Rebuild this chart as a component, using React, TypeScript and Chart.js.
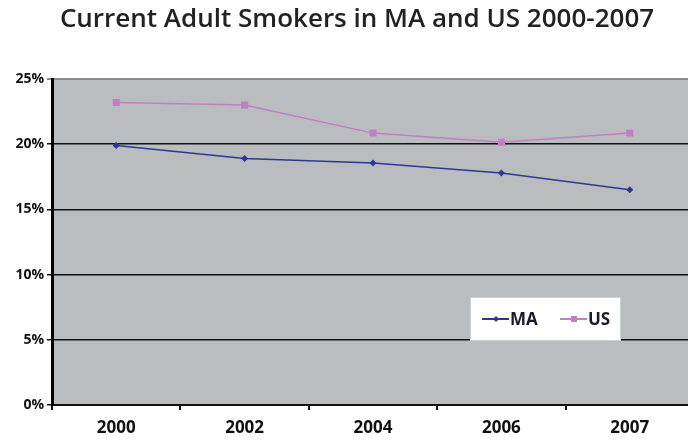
import React, { useEffect, useRef } from "react";
import { Chart, registerables } from "chart.js";

Chart.register(...registerables);

const years = ["2000", "2002", "2004", "2006", "2007"];
const maValues = [19.9, 18.9, 18.55, 17.8, 16.5];
const usValues = [23.2, 23.0, 20.85, 20.15, 20.85];
const yTicks = [0, 5, 10, 15, 20, 25];
const titleText = "Current Adult Smokers in MA and US 2000-2007";

const MA_COLOR = "#2b3a8f";
const US_COLOR = "#c27fc4";

const bgPlugin = {
  id: "plotBg",
  beforeDraw(chart: any) {
    const { ctx, chartArea } = chart;
    ctx.save();
    ctx.fillStyle = "#b9bdbf";
    ctx.fillRect(chartArea.left, chartArea.top, chartArea.right - chartArea.left, chartArea.bottom - chartArea.top);
    ctx.restore();
  },
};

const titlePlugin = {
  id: "customTitle",
  afterDraw(chart: any) {
    const { ctx } = chart;
    ctx.save();
    ctx.fillStyle = "#222222";
    ctx.font = "600 26px 'Open Sans'";
    ctx.textAlign = "center";
    ctx.textBaseline = "middle";
    ctx.fillText(titleText, 357, 20);
    ctx.restore();
  },
};

const legendPlugin = {
  id: "customLegend",
  afterDraw(chart: any) {
    const { ctx } = chart;
    const x = 470, y = 297, w = 151, h = 44;
    ctx.save();
    ctx.fillStyle = "#ffffff";
    ctx.fillRect(x, y, w, h);
    ctx.strokeStyle = "#d0d0d0";
    ctx.lineWidth = 1;
    ctx.strokeRect(x + 0.5, y + 0.5, w - 1, h - 1);
    const cy = y + 22;
    const items = [
      { label: "MA", color: MA_COLOR, x0: 482, marker: "diamond" },
      { label: "US", color: US_COLOR, x0: 560, marker: "square" },
    ];
    ctx.font = "bold 17px 'Open Sans'";
    ctx.textBaseline = "middle";
    ctx.textAlign = "left";
    for (const it of items) {
      ctx.strokeStyle = it.color;
      ctx.lineWidth = 2;
      ctx.beginPath();
      ctx.moveTo(it.x0, cy);
      ctx.lineTo(it.x0 + 27, cy);
      ctx.stroke();
      ctx.fillStyle = it.color;
      const mx = it.x0 + 14;
      if (it.marker === "diamond") {
        ctx.beginPath();
        ctx.moveTo(mx, cy - 3);
        ctx.lineTo(mx + 3, cy);
        ctx.lineTo(mx, cy + 3);
        ctx.lineTo(mx - 3, cy);
        ctx.closePath();
        ctx.fill();
      } else {
        ctx.fillRect(mx - 3, cy - 3, 6, 6);
      }
      ctx.fillStyle = "#1a1a2a";
      ctx.fillText(it.label, it.x0 + 28, cy + 1);
    }
    ctx.restore();
  },
};

export default function App() {
  const ref = useRef<HTMLCanvasElement>(null);
  useEffect(() => {
    if (!ref.current) return;
    const chart = new Chart(ref.current, {
      type: "line",
      data: {
        labels: years,
        datasets: [
          {
            label: "MA",
            data: maValues,
            borderColor: MA_COLOR,
            backgroundColor: MA_COLOR,
            borderWidth: 1.5,
            pointStyle: "rectRot",
            pointRadius: 3.5,
            pointBorderWidth: 0,
            tension: 0,
          },
          {
            label: "US",
            data: usValues,
            borderColor: US_COLOR,
            backgroundColor: US_COLOR,
            borderWidth: 1.5,
            pointStyle: "rect",
            pointRadius: 5,
            pointBorderWidth: 0,
            tension: 0,
          },
        ],
      },
      options: {
        animation: false,
        responsive: false,
        maintainAspectRatio: false,
        layout: { padding: { top: 79, right: 6, left: 0, bottom: 0 } },
        plugins: {
          legend: { display: false },
          title: { display: false },
          tooltip: { enabled: false },
        },
        scales: {
          x: {
            type: "category",
            offset: true,
            grid: {
              offset: true,
              drawOnChartArea: false,
              drawTicks: true,
              tickLength: 5,
              color: "#111",
              lineWidth: 2,
            },
            border: { display: true, color: "#111", width: 2 },
            ticks: {
              color: "#111",
              font: { family: "'Open Sans'", weight: "bold", size: 17 },
              padding: 8,
              maxRotation: 0,
            },
            afterFit(scale: any) {
              scale.height = 35;
            },
          },
          y: {
            min: 0,
            max: 25,
            afterBuildTicks(scale: any) {
              scale.ticks = yTicks.map((v) => ({ value: v }));
            },
            grid: {
              color: (c: any) => (c.tick && c.tick.value === 25 ? "#8a8d8f" : "#111"),
              lineWidth: (c: any) => (c.tick && c.tick.value === 25 ? 2 : 1.5),
              tickLength: 5,
              drawTicks: true,
            },
            border: { display: true, color: "#000", width: 3 },
            ticks: {
              color: "#111",
              font: { family: "'Open Sans'", weight: "bold", size: 14 },
              padding: 3,
              callback: (v: any) => v + "%",
            },
            afterFit(scale: any) {
              scale.width = 52;
            },
          },
        },
      },
      plugins: [bgPlugin, titlePlugin, legendPlugin],
    });
    return () => chart.destroy();
  }, []);
  return (
    <div style={{ position: "fixed", left: 0, top: 0, width: 688, height: 440, overflow: "hidden", background: "#fff" }}>
      <canvas ref={ref} width={700} height={440} style={{ display: "block" }} />
    </div>
  );
}
